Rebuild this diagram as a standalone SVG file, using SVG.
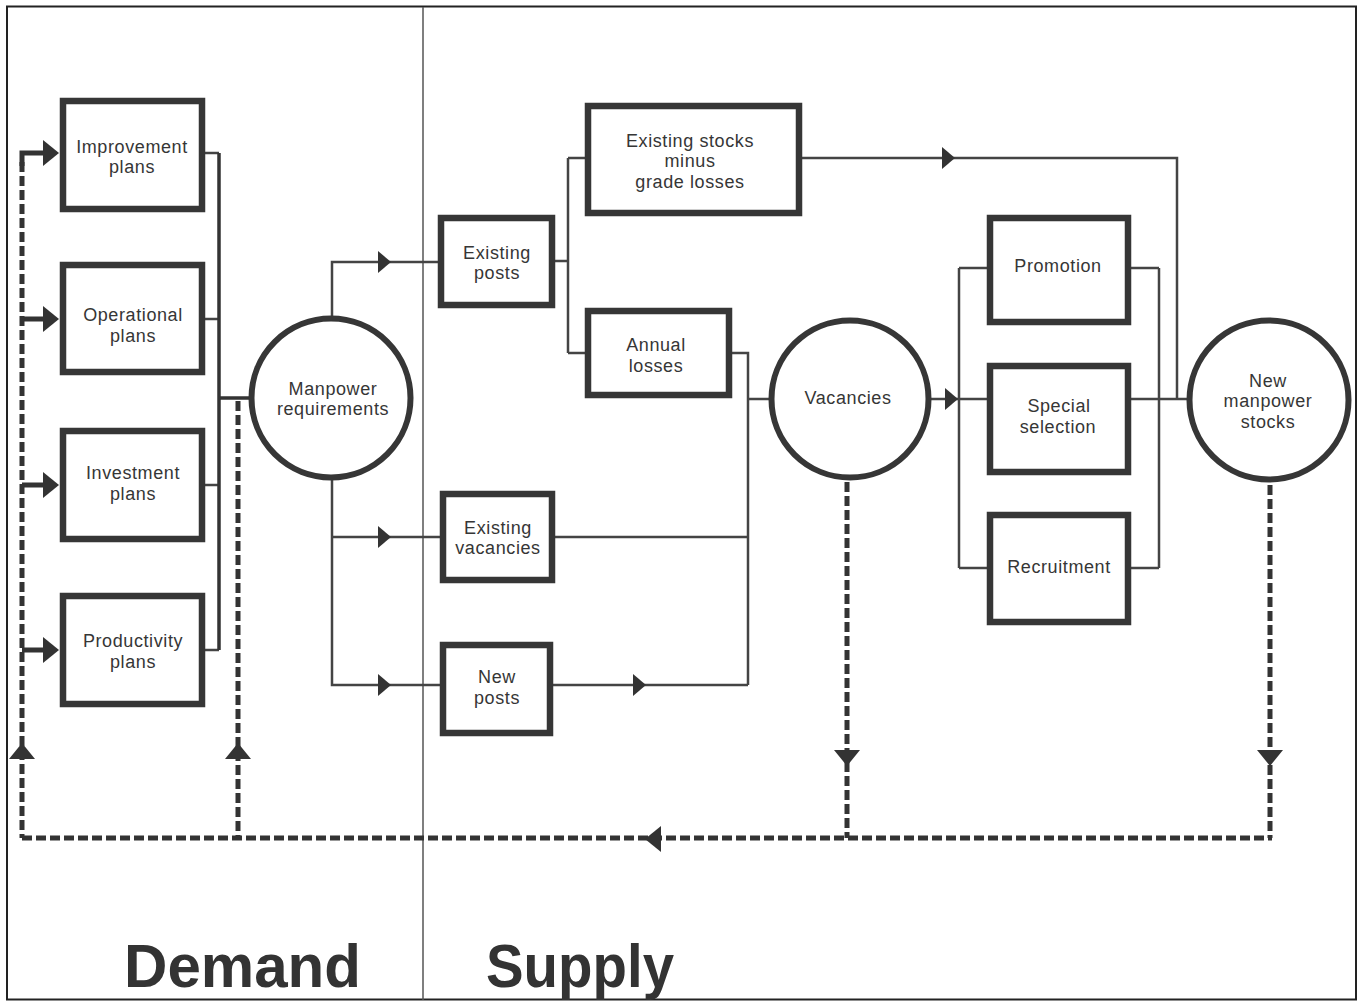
<svg xmlns="http://www.w3.org/2000/svg" xmlns:xlink="http://www.w3.org/1999/xlink" width="1359" height="1003" viewBox="0 0 1359 1003">
  <style>
    .box { fill: #ffffff; stroke: #363636; stroke-width: 6.5; }
    .node-circle { fill: #ffffff; stroke: #363636; stroke-width: 6; }
    .lbl { font-family: "Liberation Sans", Arial, sans-serif; font-size: 18px; letter-spacing: 0.6px; fill: #363636; text-anchor: middle; }
    .wire { fill: none; stroke: #444444; stroke-width: 2.5; }
    .bus { fill: none; stroke: #333333; stroke-width: 3.5; }
    .feed { fill: none; stroke: #333333; stroke-width: 5; }
    .dash { fill: none; stroke: #333333; stroke-width: 5; stroke-dasharray: 10 4; }
    .head { fill: #333333; }
    .frame { fill: none; stroke: #222222; stroke-width: 2; }
    .divider { stroke: #555555; stroke-width: 1.5; }
    .title { font-family: "Liberation Sans", Arial, sans-serif; font-size: 62px; font-weight: bold; fill: #333333; }
  </style>
  <defs>
    <!-- arrowheads drawn pointing right, tip at the origin -->
    <path id="ah" d="M0,0 L-13,-11 L-13,11 Z"/>
    <path id="ahL" d="M0,0 L-16,-13 L-16,13 Z"/>
  </defs>

  <rect width="1359" height="1003" fill="#ffffff"/>

  <!-- outer frame and Demand / Supply divider -->
  <g id="frame">
    <rect class="frame" x="7" y="6.5" width="1349" height="993"/>
    <line class="divider" x1="423" y1="7" x2="423" y2="1000"/>
  </g>

  <g id="connectors">
    <!-- plans into the requirements bus -->
    <path class="wire" d="M205,153 H219 M205,319 H219 M205,485 H219 M205,650 H219"/>
    <path class="bus" d="M219,153 V650 M219,398 H251"/>

    <!-- requirements out to posts and vacancies -->
    <path class="wire" d="M332,318 V262 H441"/>
    <path class="wire" d="M332,478 V685 H443 M332,537 H443"/>

    <!-- existing posts split -->
    <path class="wire" d="M552,261 H568 M568,158 V353 M568,158 H588 M568,353 H588"/>

    <!-- existing stocks to new manpower stocks -->
    <path class="wire" d="M799,158 H1177 V399"/>

    <!-- losses, existing vacancies and new posts gather into vacancies -->
    <path class="wire" d="M729,353 H748 V685 M552,537 H748 M550,685 H748 M748,399 H771"/>

    <!-- vacancies out to the three filling routes -->
    <path class="wire" d="M929,399 H990 M959,268 V568 M959,268 H990 M959,568 H990"/>
    <path class="wire" d="M1128,268 H1159 M1128,568 H1159 M1159,268 V568 M1128,399 H1190"/>

    <!-- feedback inputs into the plan boxes -->
    <path class="feed" d="M22,166 V153 H45 M22,319 H45 M22,485 H45 M22,650 H45"/>

    <!-- dashed feedback loop -->
    <path class="dash" d="M22,162 V838"/>
    <path class="dash" d="M238,401 V838"/>
    <path class="dash" d="M847,482 V838"/>
    <path class="dash" d="M1270,485 V838"/>
    <path class="dash" d="M22,838 H1272"/>

    <!-- arrowheads -->
    <use class="head" xlink:href="#ah" transform="translate(391,262)"/>
    <use class="head" xlink:href="#ah" transform="translate(391,537)"/>
    <use class="head" xlink:href="#ah" transform="translate(391,685)"/>
    <use class="head" xlink:href="#ah" transform="translate(955,158)"/>
    <use class="head" xlink:href="#ah" transform="translate(646,685)"/>
    <use class="head" xlink:href="#ah" transform="translate(958,399)"/>

    <use class="head" xlink:href="#ahL" transform="translate(59,153)"/>
    <use class="head" xlink:href="#ahL" transform="translate(59,319)"/>
    <use class="head" xlink:href="#ahL" transform="translate(59,485)"/>
    <use class="head" xlink:href="#ahL" transform="translate(59,650)"/>

    <use class="head" xlink:href="#ahL" transform="translate(22,743) rotate(-90)"/>
    <use class="head" xlink:href="#ahL" transform="translate(238,743) rotate(-90)"/>
    <use class="head" xlink:href="#ahL" transform="translate(847,766) rotate(90)"/>
    <use class="head" xlink:href="#ahL" transform="translate(1270,766) rotate(90)"/>
    <use class="head" xlink:href="#ahL" transform="translate(645,839) rotate(180)"/>
  </g>

  <!-- demand side -->
  <g id="improvement-plans">
    <rect class="box" x="63" y="101" width="139" height="108"/>
    <text class="lbl" x="132" y="153">Improvement</text>
    <text class="lbl" x="132" y="173">plans</text>
  </g>
  <g id="operational-plans">
    <rect class="box" x="63" y="265" width="139" height="107"/>
    <text class="lbl" x="133" y="321">Operational</text>
    <text class="lbl" x="133" y="342">plans</text>
  </g>
  <g id="investment-plans">
    <rect class="box" x="63" y="431" width="139" height="108"/>
    <text class="lbl" x="133" y="479">Investment</text>
    <text class="lbl" x="133" y="500">plans</text>
  </g>
  <g id="productivity-plans">
    <rect class="box" x="63" y="596" width="139" height="108"/>
    <text class="lbl" x="133" y="647">Productivity</text>
    <text class="lbl" x="133" y="668">plans</text>
  </g>
  <g id="manpower-requirements">
    <circle class="node-circle" cx="331" cy="398" r="79.5"/>
    <text class="lbl" x="333" y="395">Manpower</text>
    <text class="lbl" x="333" y="415">requirements</text>
  </g>

  <!-- supply side -->
  <g id="existing-posts">
    <rect class="box" x="441" y="218" width="111" height="87"/>
    <text class="lbl" x="497" y="259">Existing</text>
    <text class="lbl" x="497" y="279">posts</text>
  </g>
  <g id="existing-stocks">
    <rect class="box" x="588" y="106" width="211" height="107"/>
    <text class="lbl" x="690" y="147">Existing stocks</text>
    <text class="lbl" x="690" y="167">minus</text>
    <text class="lbl" x="690" y="188">grade losses</text>
  </g>
  <g id="annual-losses">
    <rect class="box" x="588" y="311" width="141" height="84"/>
    <text class="lbl" x="656" y="351">Annual</text>
    <text class="lbl" x="656" y="372">losses</text>
  </g>
  <g id="existing-vacancies">
    <rect class="box" x="443" y="494" width="109" height="86"/>
    <text class="lbl" x="498" y="534">Existing</text>
    <text class="lbl" x="498" y="554">vacancies</text>
  </g>
  <g id="new-posts">
    <rect class="box" x="443" y="645" width="107" height="88"/>
    <text class="lbl" x="497" y="683">New</text>
    <text class="lbl" x="497" y="704">posts</text>
  </g>
  <g id="vacancies">
    <circle class="node-circle" cx="850" cy="399" r="78.5"/>
    <text class="lbl" x="848" y="404">Vacancies</text>
  </g>
  <g id="promotion">
    <rect class="box" x="990" y="218" width="138" height="104"/>
    <text class="lbl" x="1058" y="272">Promotion</text>
  </g>
  <g id="special-selection">
    <rect class="box" x="990" y="366" width="138" height="106"/>
    <text class="lbl" x="1059" y="412">Special</text>
    <text class="lbl" x="1058" y="433">selection</text>
  </g>
  <g id="recruitment">
    <rect class="box" x="990" y="515" width="138" height="107"/>
    <text class="lbl" x="1059" y="573">Recruitment</text>
  </g>
  <g id="new-manpower-stocks">
    <circle class="node-circle" cx="1269" cy="400" r="79.5"/>
    <text class="lbl" x="1268" y="387">New</text>
    <text class="lbl" x="1268" y="407">manpower</text>
    <text class="lbl" x="1268" y="428">stocks</text>
  </g>

  <!-- section titles -->
  <g id="titles">
    <text class="title" x="124" y="987" textLength="237" lengthAdjust="spacingAndGlyphs">Demand</text>
    <text class="title" x="486" y="987" textLength="188" lengthAdjust="spacingAndGlyphs">Supply</text>
  </g>
</svg>
